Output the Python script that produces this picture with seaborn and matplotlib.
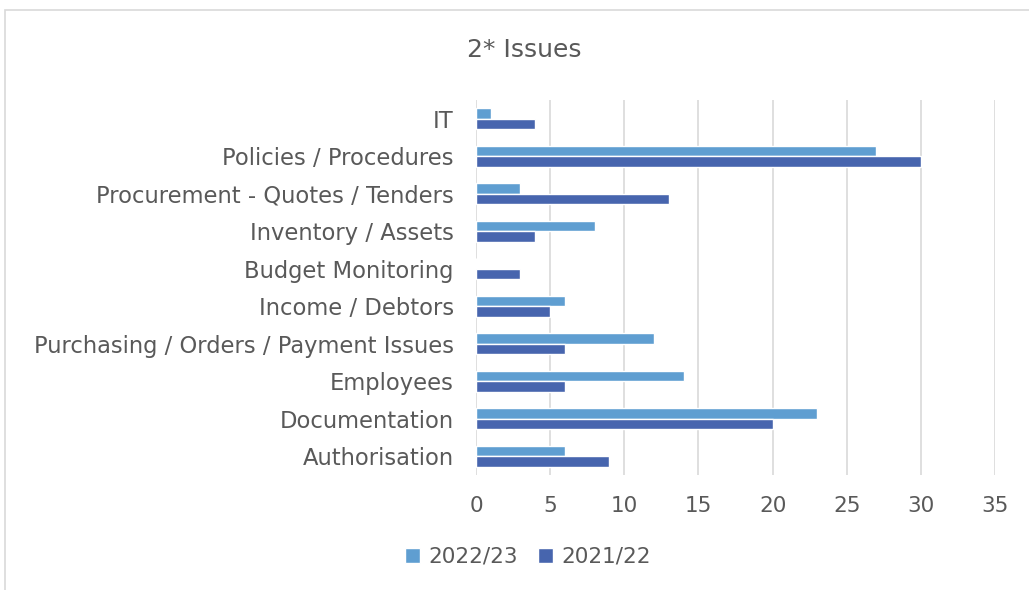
import matplotlib
matplotlib.use("Agg")
import matplotlib.pyplot as plt
import seaborn as sns
import pandas as pd
from matplotlib.patches import Rectangle

categories = ["IT", "Policies / Procedures", "Procurement - Quotes / Tenders",
              "Inventory / Assets", "Budget Monitoring", "Income / Debtors",
              "Purchasing / Orders / Payment Issues", "Employees",
              "Documentation", "Authorisation"]
series_2223 = [1, 27, 3, 8, 0, 6, 12, 14, 23, 6]
series_2122 = [4, 30, 13, 4, 3, 5, 6, 6, 20, 9]
series_names = ["2022/23", "2021/22"]
colors = ["#5F9ED1", "#4765AE"]
x_ticks = [0, 5, 10, 15, 20, 25, 30, 35]

df = pd.DataFrame({
    "Category": categories * 2,
    "Value": series_2223 + series_2122,
    "Year": [series_names[0]] * len(categories) + [series_names[1]] * len(categories),
})

sns.set_theme(style="white")
plt.rcParams['font.family'] = ['DejaVu Sans']
text_color = "#595959"

fig = plt.figure(figsize=(10.29, 5.9), dpi=100)
ax = fig.add_axes([476/1029, 1-475/590, (995-476)/1029, (475-100)/590])

sns.barplot(data=df, y="Category", x="Value", hue="Year", order=categories,
            hue_order=series_names, palette=colors, orient="h", width=0.55,
            ax=ax, saturation=1, legend=True)

ax.set_xlim(0, 35)
ax.set_xticks(x_ticks)
ax.set_xticklabels([str(t) for t in x_ticks])
ax.set_ylim(len(categories) - 0.5, -0.5)
ax.set_xlabel("")
ax.set_ylabel("")
ax.grid(axis="x", color="#D9D9D9", linewidth=1.2)
ax.set_axisbelow(True)
for s in ax.spines.values():
    s.set_visible(False)
ax.tick_params(axis="y", length=0, colors=text_color, labelsize=16.3, pad=16)
ax.tick_params(axis="x", length=0, colors=text_color, labelsize=15.5, pad=15)
for lbl in ax.get_xticklabels() + ax.get_yticklabels():
    lbl.set_color(text_color)

handles, labels = ax.get_legend_handles_labels()
ax.get_legend().remove()
fig.legend(handles, labels, loc="center", bbox_to_anchor=(528/1029, 1-557/590),
           ncol=2, frameon=False, fontsize=15.5, handlelength=0.7, handleheight=0.7,
           columnspacing=0.9, handletextpad=0.4, labelcolor=text_color)

fig.text(524/1029, 1-50/590, "2* Issues", ha="center", va="center",
         fontsize=18, color=text_color)

fig.patches.append(Rectangle((5/1029, -0.1), 1.1, 1-10/590+0.1,
                             transform=fig.transFigure, fill=False,
                             edgecolor="#D9D9D9", linewidth=1.2))

fig.savefig("out.png", dpi=100)
